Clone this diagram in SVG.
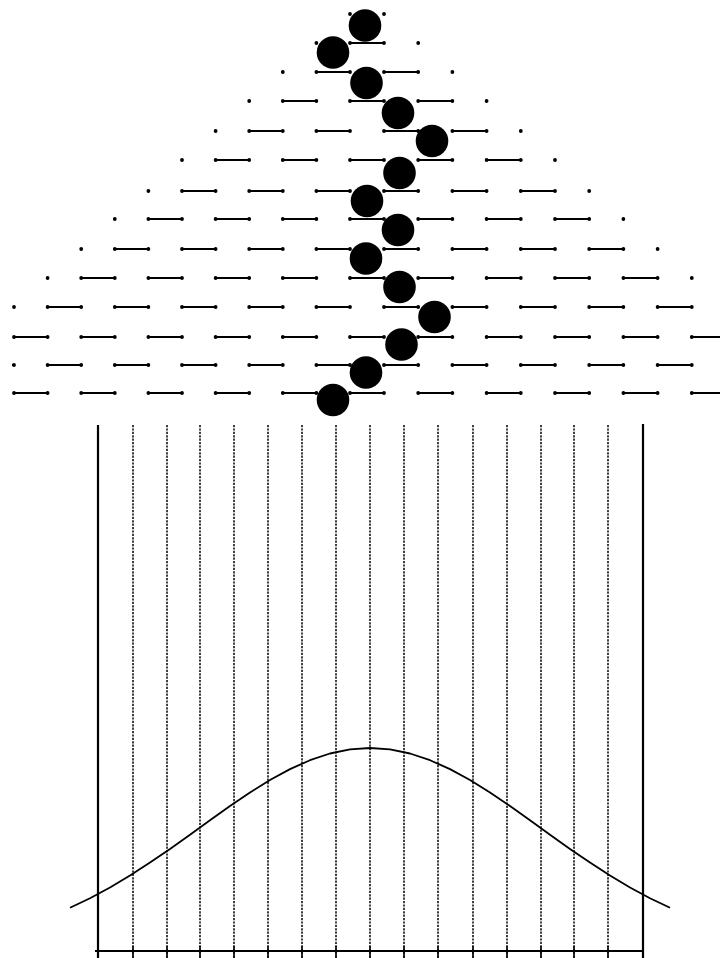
<svg xmlns="http://www.w3.org/2000/svg" width="720" height="958" viewBox="0 0 720 958">
<style>
.seg{fill:none;stroke:#000;stroke-width:2.2}
.dot{fill:none;stroke:#000;stroke-width:3.8;stroke-linecap:round}
.ball{fill:#000}
.bin{fill:none;stroke:#000;stroke-width:1.5;stroke-dasharray:2.2 1.2}
.wall{fill:none;stroke:#000;stroke-width:2.2}
.curve{fill:none;stroke:#000;stroke-width:1.8;stroke-linejoin:round}
</style>
<defs>
<clipPath id="clipPegs"><rect x="12" y="0" width="708" height="420"/></clipPath>
</defs>
<rect width="720" height="958" fill="#fff"/>
<g id="pegs" clip-path="url(#clipPegs)">
<g id="row0"><path class="dot" d="M350 14h0M384 14h0"/></g>
<g id="row1"><path class="seg" d="M350 43H384"/><path class="dot" d="M316.4 43h0M350 43h0M384 43h0M418.2 43h0"/></g>
<g id="row2"><path class="seg" d="M316.4 72H350M384 72H418.2"/><path class="dot" d="M282.8 72h0M316.4 72h0M350 72h0M384 72h0M418.2 72h0M452.4 72h0"/></g>
<g id="row3"><path class="seg" d="M282.8 101H316.4M350 101H384M418.2 101H452.4"/><path class="dot" d="M249.2 101h0M282.8 101h0M316.4 101h0M350 101h0M384 101h0M418.2 101h0M452.4 101h0M486.6 101h0"/></g>
<g id="row4"><path class="seg" d="M249.2 131H282.8M316.4 131H350M384 131H418.2M452.4 131H486.6"/><path class="dot" d="M215.6 131h0M249.2 131h0M282.8 131h0M316.4 131h0M350 131h0M384 131h0M418.2 131h0M452.4 131h0M486.6 131h0M520.8 131h0"/></g>
<g id="row5"><path class="seg" d="M215.6 160H249.2M282.8 160H316.4M350 160H384M418.2 160H452.4M486.6 160H520.8"/><path class="dot" d="M182 160h0M215.6 160h0M249.2 160h0M282.8 160h0M316.4 160h0M350 160h0M384 160h0M418.2 160h0M452.4 160h0M486.6 160h0M520.8 160h0M555 160h0"/></g>
<g id="row6"><path class="seg" d="M182 191H215.6M249.2 191H282.8M316.4 191H350M384 191H418.2M452.4 191H486.6M520.8 191H555"/><path class="dot" d="M148.4 191h0M182 191h0M215.6 191h0M249.2 191h0M282.8 191h0M316.4 191h0M350 191h0M384 191h0M418.2 191h0M452.4 191h0M486.6 191h0M520.8 191h0M555 191h0M589.2 191h0"/></g>
<g id="row7"><path class="seg" d="M148.4 219H182M215.6 219H249.2M282.8 219H316.4M350 219H384M418.2 219H452.4M486.6 219H520.8M555 219H589.2"/><path class="dot" d="M114.8 219h0M148.4 219h0M182 219h0M215.6 219h0M249.2 219h0M282.8 219h0M316.4 219h0M350 219h0M384 219h0M418.2 219h0M452.4 219h0M486.6 219h0M520.8 219h0M555 219h0M589.2 219h0M623.4 219h0"/></g>
<g id="row8"><path class="seg" d="M114.8 249H148.4M182 249H215.6M249.2 249H282.8M316.4 249H350M384 249H418.2M452.4 249H486.6M520.8 249H555M589.2 249H623.4"/><path class="dot" d="M81.2 249h0M114.8 249h0M148.4 249h0M182 249h0M215.6 249h0M249.2 249h0M282.8 249h0M316.4 249h0M350 249h0M384 249h0M418.2 249h0M452.4 249h0M486.6 249h0M520.8 249h0M555 249h0M589.2 249h0M623.4 249h0M657.6 249h0"/></g>
<g id="row9"><path class="seg" d="M81.2 278H114.8M148.4 278H182M215.6 278H249.2M282.8 278H316.4M350 278H384M418.2 278H452.4M486.6 278H520.8M555 278H589.2M623.4 278H657.6"/><path class="dot" d="M47.6 278h0M81.2 278h0M114.8 278h0M148.4 278h0M182 278h0M215.6 278h0M249.2 278h0M282.8 278h0M316.4 278h0M350 278h0M384 278h0M418.2 278h0M452.4 278h0M486.6 278h0M520.8 278h0M555 278h0M589.2 278h0M623.4 278h0M657.6 278h0M691.8 278h0"/></g>
<g id="row10"><path class="seg" d="M47.6 307H81.2M114.8 307H148.4M182 307H215.6M249.2 307H282.8M316.4 307H350M384 307H418.2M452.4 307H486.6M520.8 307H555M589.2 307H623.4M657.6 307H691.8"/><path class="dot" d="M14 307h0M47.6 307h0M81.2 307h0M114.8 307h0M148.4 307h0M182 307h0M215.6 307h0M249.2 307h0M282.8 307h0M316.4 307h0M350 307h0M384 307h0M418.2 307h0M452.4 307h0M486.6 307h0M520.8 307h0M555 307h0M589.2 307h0M623.4 307h0M657.6 307h0M691.8 307h0"/></g>
<g id="row11"><path class="seg" d="M14 337H47.6M81.2 337H114.8M148.4 337H182M215.6 337H249.2M282.8 337H316.4M350 337H384M418.2 337H452.4M486.6 337H520.8M555 337H589.2M623.4 337H657.6M691.8 337H726"/><path class="dot" d="M14 337h0M47.6 337h0M81.2 337h0M114.8 337h0M148.4 337h0M182 337h0M215.6 337h0M249.2 337h0M282.8 337h0M316.4 337h0M350 337h0M384 337h0M418.2 337h0M452.4 337h0M486.6 337h0M520.8 337h0M555 337h0M589.2 337h0M623.4 337h0M657.6 337h0M691.8 337h0"/></g>
<g id="row12"><path class="seg" d="M-19.6 365H14M47.6 365H81.2M114.8 365H148.4M182 365H215.6M249.2 365H282.8M316.4 365H350M384 365H418.2M452.4 365H486.6M520.8 365H555M589.2 365H623.4M657.6 365H691.8"/><path class="dot" d="M14 365h0M47.6 365h0M81.2 365h0M114.8 365h0M148.4 365h0M182 365h0M215.6 365h0M249.2 365h0M282.8 365h0M316.4 365h0M350 365h0M384 365h0M418.2 365h0M452.4 365h0M486.6 365h0M520.8 365h0M555 365h0M589.2 365h0M623.4 365h0M657.6 365h0M691.8 365h0"/></g>
<g id="row13"><path class="seg" d="M14 393H47.6M81.2 393H114.8M148.4 393H182M215.6 393H249.2M282.8 393H316.4M350 393H384M418.2 393H452.4M486.6 393H520.8M555 393H589.2M623.4 393H657.6M691.8 393H726"/><path class="dot" d="M14 393h0M47.6 393h0M81.2 393h0M114.8 393h0M148.4 393h0M182 393h0M215.6 393h0M249.2 393h0M282.8 393h0M316.4 393h0M350 393h0M384 393h0M418.2 393h0M452.4 393h0M486.6 393h0M520.8 393h0M555 393h0M589.2 393h0M623.4 393h0M657.6 393h0M691.8 393h0"/></g>
</g>
<g id="balls">
<circle id="ball1" class="ball" cx="365" cy="25.5" r="16.3"/>
<circle id="ball2" class="ball" cx="333" cy="52.5" r="16.3"/>
<circle id="ball3" class="ball" cx="366.5" cy="83" r="16.3"/>
<circle id="ball4" class="ball" cx="398" cy="113" r="16.3"/>
<circle id="ball5" class="ball" cx="432" cy="141" r="16.3"/>
<circle id="ball6" class="ball" cx="399.5" cy="173" r="16.3"/>
<circle id="ball7" class="ball" cx="367" cy="201" r="16.3"/>
<circle id="ball8" class="ball" cx="398" cy="230" r="16.3"/>
<circle id="ball9" class="ball" cx="366" cy="258.5" r="16.3"/>
<circle id="ball10" class="ball" cx="399.5" cy="287" r="16.3"/>
<circle id="ball11" class="ball" cx="434.5" cy="317" r="16.3"/>
<circle id="ball12" class="ball" cx="401.5" cy="344.5" r="16.3"/>
<circle id="ball13" class="ball" cx="366" cy="372.5" r="16.3"/>
<circle id="ball14" class="ball" cx="333" cy="400" r="16.3"/>
</g>
<g id="bins">
<path class="wall" d="M98 425V958M643 424V958M95 951H643"/>
<path class="bin" d="M133 425V958M167 425V958M200 425V958M234 425V958M268 425V958M302 425V958M336 425V958M370 425V958M404 425V958M438 425V958M473 425V958M507 425V958M541 425V958M574 425V958M608 425V958"/>
<path class="wall" style="stroke-width:1.5" d="M133 946V958M167 946V958M200 946V958M234 946V958M268 946V958M302 946V958M336 946V958M370 946V958M404 946V958M438 946V958M473 946V958M507 946V958M541 946V958M574 946V958M608 946V958"/>
</g>
<g id="curve">
<polyline class="curve" points="70,907.8 90,898.2 110,887.5 130,875.5 150,862.6 170,848.9 190,834.7 210,820.2 230,806 250,792.5 270,780 290,769.1 310,760.2 330,753.5 350,749.4 370,748 390,749.4 410,753.5 430,760.2 450,769.1 470,780 490,792.5 510,806 530,820.2 550,834.7 570,848.9 590,862.6 610,875.5 630,887.5 650,898.2 670,907.8"/>
</g>
</svg>
